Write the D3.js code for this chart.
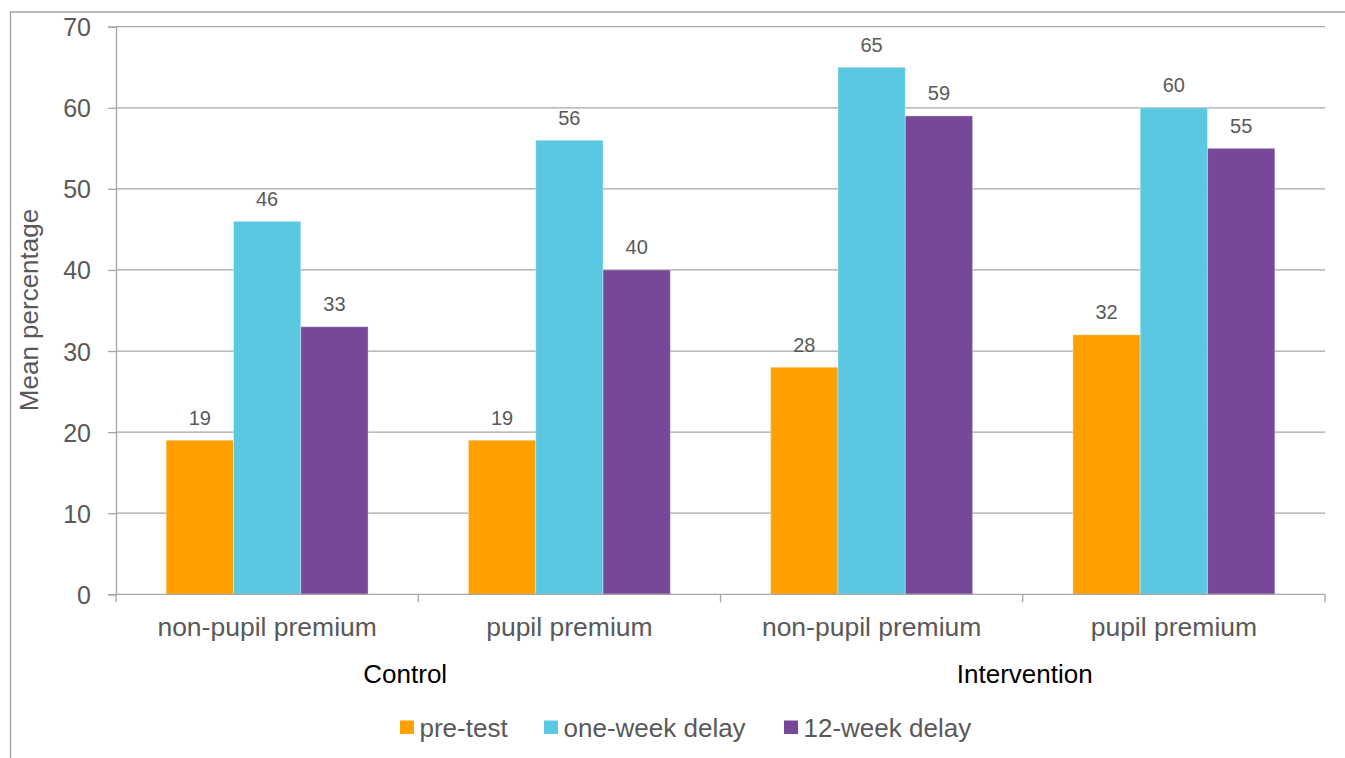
<!DOCTYPE html>
<html>
<head>
<meta charset="utf-8">
<script src="https://cdn.jsdelivr.net/npm/d3@7"></script>
<style>
  html, body { margin: 0; padding: 0; background: #fff; }
  svg { display: block; font-family: "Liberation Sans", Arial, sans-serif; }
</style>
</head>
<body>
<svg id="chart" width="1345" height="758"></svg>
<script>
const categories = ["non-pupil premium", "pupil premium", "non-pupil premium", "pupil premium"];
const superGroups = ["Control", "Intervention"];
const seriesNames = ["pre-test", "one-week delay", "12-week delay"];
const preTest = [19, 19, 28, 32];
const oneWeek = [46, 56, 65, 60];
const twelveWeek = [33, 40, 59, 55];
const yTicks = [0, 10, 20, 30, 40, 50, 60, 70];
const colors = ["#FFA000", "#5AC8E1", "#784898"];

const seriesValues = [preTest, oneWeek, twelveWeek];
const svg = d3.select("#chart");
const textGray = "#595959";
const lineGray = "#A6A6A6";

const plotLeft = 116, plotRight = 1325, plotTop = 26.7, plotBottom = 594.3;

// outer frame
svg.append("line").attr("x1", 10.5).attr("x2", 10.5).attr("y1", 12).attr("y2", 758)
  .attr("stroke", "#A0A0A0").attr("stroke-width", 1.3);
svg.append("line").attr("x1", 10).attr("x2", 1345).attr("y1", 12).attr("y2", 12)
  .attr("stroke", "#A0A0A0").attr("stroke-width", 1.3);

const x0 = d3.scaleBand().domain(d3.range(categories.length)).range([plotLeft, plotRight]).padding(0);
const x1 = d3.scaleBand().domain(d3.range(seriesNames.length)).range([0, x0.bandwidth()])
  .paddingInner(0).paddingOuter(0.745);
const y = d3.scaleLinear().domain([0, 70]).range([plotBottom, plotTop]);

// gridlines
svg.append("g").selectAll("line").data(yTicks.filter(d => d > 0)).join("line")
  .attr("x1", plotLeft).attr("x2", plotRight)
  .attr("y1", d => y(d)).attr("y2", d => y(d))
  .attr("stroke", lineGray).attr("stroke-width", 1.3);

// y axis
const yAxis = d3.axisLeft(y).tickValues(yTicks).tickSize(8).tickPadding(17);
const gy = svg.append("g").attr("transform", `translate(${plotLeft},0)`).call(yAxis);
gy.select(".domain").attr("stroke", lineGray).attr("stroke-width", 1.3);
gy.selectAll(".tick line").attr("stroke", lineGray).attr("stroke-width", 1.3);
gy.selectAll(".tick text").attr("fill", textGray).style("font-size", "25px")
  .style("font-family", "Liberation Sans, Arial, sans-serif").attr("dy", "0.36em");

// bars
const groups = svg.append("g").selectAll("g").data(categories).join("g")
  .attr("transform", (d, i) => `translate(${x0(i)},0)`);
groups.each(function(cat, ci) {
  const g = d3.select(this);
  seriesNames.forEach((s, si) => {
    const v = seriesValues[si][ci];
    g.append("rect")
      .attr("x", x1(si)).attr("width", x1.bandwidth())
      .attr("y", y(v)).attr("height", y(0) - y(v))
      .attr("fill", colors[si])
      .attr("stroke", "#ffffff").attr("stroke-opacity", 0.35).attr("stroke-width", 1);
    g.append("text")
      .attr("x", x1(si) + x1.bandwidth() / 2)
      .attr("y", y(v) - 15.5)
      .attr("text-anchor", "middle")
      .attr("fill", textGray)
      .style("font-size", "20px")
      .text(v);
  });
});

// x axis line and ticks
svg.append("line").attr("x1", plotLeft).attr("x2", plotRight).attr("y1", y(0)).attr("y2", y(0))
  .attr("stroke", lineGray).attr("stroke-width", 1.3);
const boundaries = d3.range(categories.length + 1).map(i => plotLeft + i * x0.step());
svg.append("g").selectAll("line").data(boundaries).join("line")
  .attr("x1", d => d).attr("x2", d => d).attr("y1", y(0)).attr("y2", y(0) + 8)
  .attr("stroke", lineGray).attr("stroke-width", 1.3);

// category labels
svg.append("g").selectAll("text").data(categories).join("text")
  .attr("x", (d, i) => x0(i) + x0.bandwidth() / 2)
  .attr("y", 635.5)
  .attr("text-anchor", "middle")
  .attr("fill", textGray)
  .style("font-size", "26.5px")
  .text(d => d);

// super group labels
const superOffsets = [-13, 2];
svg.append("g").selectAll("text").data(superGroups).join("text")
  .attr("x", (d, i) => x0(i * 2) + x0.bandwidth() + superOffsets[i])
  .attr("y", 683)
  .attr("text-anchor", "middle")
  .attr("fill", "#000")
  .style("font-size", "26px")
  .text(d => d);

// y axis title
svg.append("text")
  .attr("transform", `translate(38,310) rotate(-90)`)
  .attr("text-anchor", "middle")
  .attr("fill", textGray)
  .style("font-size", "26px")
  .text("Mean percentage");

// legend
const legendX = [400, 544, 784];
const legend = svg.append("g").selectAll("g").data(seriesNames).join("g")
  .attr("transform", (d, i) => `translate(${legendX[i]},720.5)`);
legend.append("rect").attr("width", 14).attr("height", 13.5).attr("fill", (d, i) => colors[i]);
legend.append("text").attr("x", 19.5).attr("y", 16.5)
  .attr("fill", textGray).style("font-size", "26px").text(d => d);
</script>
</body>
</html>
